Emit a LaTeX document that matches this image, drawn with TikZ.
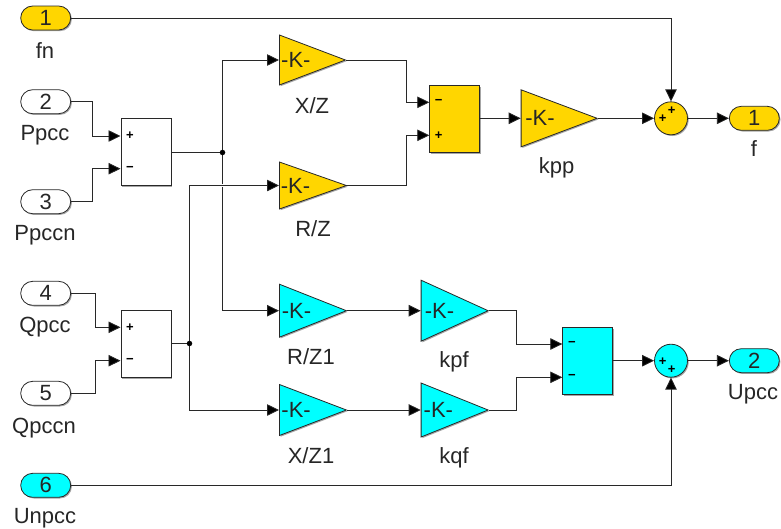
\documentclass[tikz,border=0pt]{standalone}
\usepackage{fontspec}
\setmainfont{Liberation Sans}
\definecolor{blkyellow}{RGB}{255,214,0}
\definecolor{blkcyan}{RGB}{0,255,255}
\definecolor{wiregray}{RGB}{40,40,40}
\usetikzlibrary{arrows.meta,positioning,shapes.geometric,shapes.misc,shadows,calc}
\newcommand{\gaintext}{\hspace*{-3.5pt}-K-}

\begin{document}
\begin{tikzpicture}[
  x=1pt,y=-1pt,
  every node/.style={font=\fontsize{22}{24}\selectfont,text=black!85},
  blkshadow/.style={drop shadow={shadow xshift=1.2pt,shadow yshift=-1.2pt,opacity=0.35,fill=black}},
  port/.style={draw=wiregray,rounded rectangle,minimum width=50pt,minimum height=24pt,
               inner sep=0pt,line width=0.8pt,blkshadow},
  gain/.style={draw=wiregray,isosceles triangle,isosceles triangle stretches,shape border rotate=0,
               anchor=lower side,inner sep=0pt,line width=0.8pt,blkshadow},
  sumblock/.style={draw=wiregray,rectangle,minimum width=50pt,anchor=north west,
                   inner sep=0pt,line width=0.8pt,blkshadow},
  sumround/.style={draw=wiregray,circle,minimum size=33pt,inner sep=0pt,line width=0.8pt,blkshadow},
  sign/.style={font=\fontsize{13}{13}\bfseries\selectfont,inner sep=0pt,text=black},
  junction/.style={circle,fill=black,minimum size=5.5pt,inner sep=0pt},
  blkname/.style={anchor=base,inner sep=0pt},
  arr/.style={-{Triangle[length=12pt,width=11.5pt,fill=black]},line width=0.8pt,wiregray},
  wire/.style={line width=0.8pt,wiregray},
]
  \useasboundingbox (0,0) rectangle (781,528);

  % input ports
  \node[port,fill=blkyellow] (in1) at (45.7,18) {1};
  \node[port,fill=white] (in2) at (45.7,101.7) {2};
  \node[port,fill=white] (in3) at (45.7,201.7) {3};
  \node[port,fill=white] (in4) at (45.7,293.3) {4};
  \node[port,fill=white] (in5) at (45.7,393.3) {5};
  \node[port,fill=blkcyan] (in6) at (45.7,485.3) {6};
  \node[blkname] (fn) at (45,58) {fn};
  \node[blkname] (ppcc) at (45,140.7) {Ppcc};
  \node[blkname] (ppccn) at (45,240.7) {Ppccn};
  \node[blkname] (qpcc) at (45,332.3) {Qpcc};
  \node[blkname] (qpccn) at (44,433) {Qpccn};
  \node[blkname] (unpcc) at (45,523.3) {Unpcc};

  % difference blocks
  \node[sumblock,fill=white,minimum height=67pt] (diffp) at (120.5,118) {};
  \node[sumblock,fill=white,minimum height=67pt] (diffq) at (120.5,310) {};
  \node[sumblock,fill=blkyellow,minimum height=67pt] (diffy) at (429.3,85) {};
  \node[sumblock,fill=blkcyan,minimum height=67pt] (diffc) at (562.3,327.3) {};
  \node[sign] (pplus) at (130,136) {+};
  \node[sign] (pminus) at (130,168.7) {\textminus};
  \node[sign] (qplus) at (130,327.3) {+};
  \node[sign] (qminus) at (130,360.7) {\textminus};
  \node[sign] (yminus) at (438.7,102.3) {\textminus};
  \node[sign] (yplus) at (438.7,135.3) {+};
  \node[sign] (cminusa) at (572,344) {\textminus};
  \node[sign] (cminusb) at (572,377.3) {\textminus};

  % gains
  \node[gain,fill=blkyellow,minimum width=50pt,minimum height=66pt] (xz) at (279,60) {\gaintext};
  \node[gain,fill=blkyellow,minimum width=47pt,minimum height=67pt] (rz) at (279,185.5) {\gaintext};
  \node[gain,fill=blkyellow,minimum width=57pt,minimum height=76pt] (kpp) at (520.7,118.3) {\gaintext};
  \node[gain,fill=blkcyan,minimum width=53pt,minimum height=67pt] (rzone) at (279,310.7) {\gaintext};
  \node[gain,fill=blkcyan,minimum width=51pt,minimum height=67pt] (xzone) at (279,410) {\gaintext};
  \node[gain,fill=blkcyan,minimum width=61pt,minimum height=67pt] (kpf) at (420.7,310.7) {\gaintext};
  \node[gain,fill=blkcyan,minimum width=54pt,minimum height=67pt] (kqf) at (420.7,410) {\gaintext};
  \node[blkname] (xzname) at (312,113.3) {X/Z};
  \node[blkname] (rzname) at (313,236) {R/Z};
  \node[blkname] (kppname) at (556.7,173.3) {kpp};
  \node[blkname] (rzonename) at (311,364) {R/Z1};
  \node[blkname] (xzonename) at (311,463.3) {X/Z1};
  \node[blkname] (kpfname) at (454,367.3) {kpf};
  \node[blkname] (kqfname) at (454,463.3) {kqf};

  % sums and output ports
  \node[sumround,fill=blkyellow] (sumf) at (671,118.3) {};
  \node[sumround,fill=blkcyan] (sumu) at (671,360.7) {};
  \node[sign] (sfa) at (671.7,110.7) {+};
  \node[sign] (sfb) at (662.7,118.7) {+};
  \node[sign] (sua) at (662.7,361.3) {+};
  \node[sign] (sub) at (671.7,369.7) {+};
  \node[port,fill=blkyellow] (outf) at (754.3,118.3) {1};
  \node[port,fill=blkcyan] (outu) at (754.3,360.7) {2};
  \node[blkname] (fname) at (754,156.7) {f};
  \node[blkname] (upcc) at (753,399) {Upcc};

  % input wires
  \draw[arr] (in2.east) -- ++(21.5,0) |- (pplus.west -| diffp.west);
  \draw[arr] (in3.east) -- ++(21.5,0) |- (pminus.west -| diffp.west);
  \draw[arr] (in4.east) -- ++(24,0) |- (qplus.west -| diffq.west);
  \draw[arr] (in5.east) -- ++(24,0) |- (qminus.west -| diffq.west);
  \draw[arr] (in1.east) -| (sumf.north);
  \draw[arr] (in6.east) -| (sumu.south);

  % branches
  \coordinate (jp) at (222.5,152.5);
  \coordinate (jq) at (189.5,343.5);
  \draw[wire] (diffp.east |- jp) -- (jp);
  \draw[wire] (diffq.east |- jq) -- (jq);
  \draw[arr] (jp) |- (xz.lower side);
  \draw[arr] (jp) |- (rzone.lower side);
  \draw[arr] (jq) |- (xzone.lower side);
  \draw[arr,preaction={draw=white,line width=3pt,-}] (jq) |- (rz.lower side);
  \node[junction] (jpdot) at (jp) {};
  \node[junction] (jqdot) at (jq) {};

  % gain outputs
  \draw[arr] (xz.apex) -- ++(59.5,0) |- (yminus.west -| diffy.west);
  \draw[arr] (rz.apex) -- ++(59,0) |- (yplus.west -| diffy.west);
  \draw[arr] (rzone.apex) -- (kpf.lower side);
  \draw[arr] (xzone.apex) -- (kqf.lower side);
  \draw[arr] (kpf.apex) -- ++(27.7,0) |- (cminusa.west -| diffc.west);
  \draw[arr] (kqf.apex) -- ++(27.7,0) |- (cminusb.west -| diffc.west);

  % outputs
  \draw[arr] (diffy.east |- kpp.lower side) -- (kpp.lower side);
  \draw[arr] (kpp.apex) -- (sumf.west);
  \draw[arr] (sumf.east) -- (outf.west);
  \draw[arr] (diffc.east |- sumu.west) -- (sumu.west);
  \draw[arr] (sumu.east) -- (outu.west);
\end{tikzpicture}
\end{document}
